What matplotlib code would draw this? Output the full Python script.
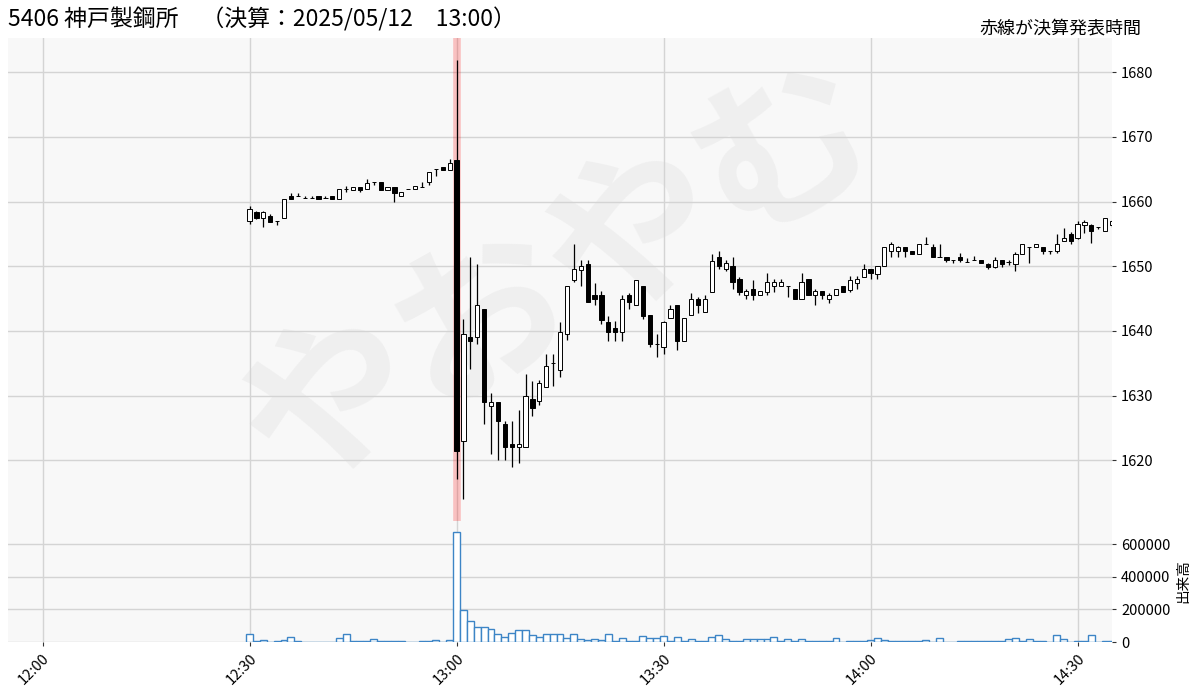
import numpy as np
import pandas as pd
import matplotlib
matplotlib.use("Agg")
import matplotlib.pyplot as plt
import matplotlib.dates as mdates
from matplotlib.ticker import MultipleLocator

plt.rcParams['font.family'] = ['Noto Sans CJK JP', 'DejaVu Sans']

# -----------------------------
# DATA (1-minute bars, 2025/05/12 12:30 - 14:35)
# -----------------------------
title = "5406 神戸製鋼所　（決算：2025/05/12　13:00）"
note = "赤線が決算発表時間"
announce_time = "2025-05-12 13:00"

times = pd.date_range("2025-05-12 12:30", "2025-05-12 14:35", freq="1min")

open_ = [
    1657.0, 1658.4, 1657.4, 1657.8, 1657.0, 1657.4, 1660.9, 1660.9, 1660.5, 1660.5,
    1660.8, 1660.5, 1660.9, 1660.4, 1661.9, 1661.8, 1662.3, 1661.9, 1663.0, 1663.0,
    1661.8, 1662.3, 1660.9, 1661.9, 1661.9, 1662.3, 1663.0, 1665.0, 1665.4, 1664.9,
    1666.4, 1623.0, 1639.0, 1639.0, 1643.4, 1628.4, 1629.0, 1625.6, 1622.5, 1622.0,
    1622.0, 1629.5, 1629.1, 1631.4, 1635.0, 1633.9, 1639.5, 1647.9, 1649.4, 1650.4,
    1645.5, 1645.5, 1641.4, 1640.4, 1639.9, 1645.5, 1644.0, 1647.0, 1642.4, 1638.0,
    1637.5, 1642.0, 1644.0, 1638.5, 1642.4, 1644.9, 1642.9, 1646.0, 1651.4, 1649.5,
    1650.0, 1648.0, 1645.5, 1646.5, 1645.5, 1646.0, 1647.0, 1647.0, 1647.0, 1646.5,
    1644.9, 1648.0, 1645.5, 1646.1, 1644.9, 1645.5, 1647.0, 1646.4, 1647.4, 1648.4,
    1649.5, 1648.8, 1650.0, 1652.4, 1652.4, 1652.9, 1652.4, 1651.9, 1653.5, 1652.9,
    1651.4, 1651.4, 1651.0, 1651.4, 1650.7, 1651.0, 1651.0, 1650.3, 1649.9, 1650.9,
    1650.6, 1650.3, 1651.9, 1652.9, 1652.9, 1652.9, 1652.4, 1652.4, 1653.9, 1655.0,
    1654.4, 1656.4, 1656.4, 1656.0, 1655.5, 1656.3,
]
high = [
    1659.3, 1658.6, 1658.5, 1658.0, 1657.0, 1660.4, 1661.3, 1661.3, 1660.9, 1660.9,
    1660.8, 1660.9, 1660.9, 1661.9, 1662.4, 1662.3, 1662.3, 1663.5, 1663.0, 1663.0,
    1662.3, 1662.3, 1661.4, 1661.9, 1662.4, 1663.0, 1664.5, 1665.0, 1665.4, 1666.6,
    1681.9, 1641.9, 1651.4, 1650.3, 1643.4, 1630.4, 1629.0, 1626.0, 1626.0, 1627.8,
    1633.4, 1632.3, 1632.4, 1636.4, 1636.4, 1641.3, 1647.0, 1653.4, 1651.0, 1650.9,
    1647.4, 1646.2, 1642.3, 1641.5, 1645.5, 1645.8, 1647.9, 1647.0, 1642.4, 1639.5,
    1641.6, 1644.0, 1644.0, 1642.0, 1645.8, 1645.2, 1645.5, 1651.9, 1652.3, 1650.9,
    1651.4, 1648.4, 1646.5, 1647.8, 1646.1, 1648.9, 1648.0, 1648.0, 1647.0, 1646.5,
    1649.0, 1648.0, 1646.5, 1646.1, 1645.8, 1646.5, 1647.0, 1648.5, 1648.5, 1650.4,
    1649.5, 1650.0, 1652.9, 1653.8, 1653.2, 1652.9, 1652.4, 1653.5, 1654.5, 1653.5,
    1653.5, 1651.4, 1651.0, 1652.0, 1651.2, 1651.6, 1651.0, 1650.5, 1651.5, 1650.9,
    1651.0, 1652.2, 1653.5, 1653.0, 1653.5, 1652.9, 1652.4, 1655.0, 1655.9, 1655.3,
    1657.0, 1657.1, 1656.5, 1656.1, 1657.4, 1657.2,
]
low = [
    1656.5, 1657.3, 1656.0, 1656.9, 1656.3, 1657.4, 1660.4, 1660.9, 1660.5, 1660.5,
    1660.4, 1660.5, 1660.4, 1660.4, 1661.4, 1661.8, 1661.5, 1661.9, 1662.5, 1661.8,
    1661.8, 1660.0, 1660.9, 1661.9, 1661.9, 1662.3, 1662.6, 1664.0, 1664.9, 1664.9,
    1617.1, 1614.0, 1634.1, 1638.0, 1625.6, 1621.0, 1620.1, 1620.1, 1619.0, 1619.6,
    1622.0, 1626.8, 1628.5, 1631.4, 1631.5, 1632.9, 1638.6, 1647.5, 1647.0, 1644.5,
    1644.0, 1641.0, 1638.5, 1638.5, 1638.5, 1643.4, 1644.0, 1641.8, 1637.5, 1636.0,
    1636.4, 1642.0, 1637.1, 1638.5, 1642.4, 1642.8, 1642.9, 1646.0, 1649.5, 1649.3,
    1646.5, 1645.5, 1645.0, 1644.7, 1645.5, 1645.5, 1646.0, 1647.0, 1645.2, 1644.9,
    1644.9, 1645.5, 1644.0, 1645.0, 1644.3, 1645.5, 1646.0, 1646.0, 1646.5, 1648.4,
    1648.0, 1648.0, 1650.0, 1651.5, 1651.5, 1651.5, 1651.9, 1651.9, 1653.5, 1651.4,
    1651.4, 1650.6, 1650.5, 1650.7, 1650.7, 1651.0, 1650.5, 1649.6, 1649.7, 1649.9,
    1650.2, 1649.2, 1651.9, 1650.5, 1652.9, 1651.9, 1651.9, 1652.0, 1653.9, 1653.4,
    1654.2, 1655.2, 1653.6, 1655.8, 1655.5, 1656.0,
]
close = [
    1658.9, 1657.4, 1658.4, 1656.9, 1657.0, 1660.4, 1660.4, 1660.9, 1660.5, 1660.5,
    1660.4, 1660.5, 1660.4, 1661.9, 1661.9, 1662.3, 1661.8, 1662.9, 1663.0, 1661.8,
    1662.3, 1661.3, 1661.4, 1661.9, 1662.4, 1662.3, 1664.5, 1665.0, 1664.9, 1665.9,
    1621.5, 1639.5, 1638.5, 1644.0, 1629.0, 1629.0, 1626.0, 1622.0, 1622.0, 1622.5,
    1630.0, 1628.0, 1631.9, 1634.5, 1635.0, 1639.9, 1647.0, 1649.6, 1650.0, 1644.5,
    1645.0, 1641.7, 1639.9, 1639.9, 1645.0, 1644.5, 1647.9, 1642.3, 1638.0, 1638.0,
    1641.4, 1643.4, 1638.5, 1642.0, 1645.0, 1644.0, 1645.0, 1650.8, 1650.0, 1650.5,
    1647.5, 1646.0, 1646.1, 1645.5, 1646.1, 1647.5, 1647.5, 1647.5, 1647.0, 1644.9,
    1647.5, 1645.5, 1646.1, 1645.5, 1645.5, 1646.5, 1646.0, 1647.9, 1648.0, 1649.5,
    1648.9, 1650.0, 1652.9, 1653.5, 1652.9, 1652.4, 1651.9, 1653.5, 1653.5, 1651.4,
    1651.4, 1650.9, 1651.0, 1650.9, 1650.7, 1651.0, 1650.5, 1649.9, 1650.9, 1650.3,
    1650.6, 1651.9, 1653.5, 1652.9, 1653.5, 1652.4, 1652.4, 1653.5, 1654.4, 1653.9,
    1656.5, 1656.9, 1655.5, 1656.0, 1657.4, 1657.0,
]
volume = [
    47000, 8000, 12000, 3000, 6000, 12000, 29000, 4000, 2000, 2000,
    2000, 2000, 2000, 23000, 47000, 4000, 4000, 4000, 16000, 6000,
    4000, 4000, 4000, 1000, 1000, 8000, 4000, 10000, 1000, 12000,
    676000, 198000, 130000, 95000, 95000, 78000, 52000, 33000, 54000, 74000,
    74000, 41000, 29000, 47000, 47000, 47000, 25000, 47000, 16000, 12000,
    16000, 12000, 52000, 8000, 25000, 8000, 8000, 39000, 23000, 23000,
    35000, 8000, 29000, 5000, 16000, 5000, 8000, 29000, 41000, 16000,
    8000, 5000, 16000, 16000, 16000, 20000, 29000, 5000, 16000, 5000,
    20000, 5000, 8000, 8000, 8000, 25000, 3000, 8000, 8000, 8000,
    10000, 23000, 12000, 4000, 4000, 4000, 4000, 8000, 12000, 3000,
    25000, 1000, 1000, 4000, 4000, 8000, 8000, 8000, 4000, 4000,
    16000, 25000, 8000, 20000, 4000, 4000, 2000, 41000, 16000, 2000,
    8000, 4000, 45000, 3000, 8000, 6000,
]

df = pd.DataFrame({"Open": open_, "High": high, "Low": low,
                   "Close": close, "Volume": volume}, index=times)

# -----------------------------
# FIGURE
# -----------------------------
fig = plt.figure(figsize=(12, 6.98), dpi=100)
ax = fig.add_axes([0.0067, 0.2536, 0.92, 0.692])
axv = fig.add_axes([0.0067, 0.0802, 0.92, 0.1734], sharex=ax)

bg = "#f8f8f8"
grid_c = "#d4d4d4"
for a in (ax, axv):
    a.set_facecolor(bg)
    a.grid(True, color=grid_c, lw=1.0)
    a.set_axisbelow(True)
    for s in a.spines.values():
        s.set_visible(False)
    a.yaxis.tick_right()
    a.tick_params(axis="both", labelsize=10.5, length=3, color="#333333")

x = mdates.date2num(df.index.to_pydatetime())
one_min = 1 / 1440

# watermark
ax.text(0.5, 0.5, "やおやむ", transform=ax.transAxes, fontsize=125,
        fontweight="bold", color="gray", alpha=0.08, rotation=29,
        ha="center", va="center", zorder=0.5)

# red line at announcement time
t0 = mdates.date2num(pd.Timestamp(announce_time))
ax.axvline(t0, color="red", alpha=0.22, lw=5.5, zorder=1)

# candles
up = df["Close"] >= df["Open"]
ax.vlines(x, df["Low"], df["High"], color="black", lw=0.9, zorder=2)
ax.bar(x, df["Close"] - df["Open"], bottom=df["Open"], width=one_min * 0.6,
       color=np.where(up, "white", "black"), edgecolor="black", lw=0.7,
       zorder=3)

rng = df["High"].max() - df["Low"].min()
ax.set_ylim(df["Low"].min() - 0.05 * rng, df["High"].max() + 0.05 * rng)
ax.yaxis.set_major_locator(MultipleLocator(10))
ax.tick_params(axis="x", labelbottom=False, length=0)

# volume
axv.bar(x, df["Volume"], width=one_min, facecolor="white",
        edgecolor="#3d85c6", lw=1.0, zorder=2)
axv.set_ylim(0, df["Volume"].max() * 1.1)
axv.yaxis.set_major_locator(MultipleLocator(200000))
axv.yaxis.set_label_position("right")
axv.set_ylabel("出来高", fontsize=10.5)

axv.set_xlim(mdates.date2num(pd.Timestamp("2025-05-12 11:55")),
             mdates.date2num(pd.Timestamp("2025-05-12 14:35")))
axv.xaxis.set_major_locator(mdates.MinuteLocator(byminute=[0, 30]))
axv.xaxis.set_major_formatter(mdates.DateFormatter("%H:%M"))
plt.setp(axv.get_xticklabels(), rotation=45, ha="right", rotation_mode="anchor")

fig.text(0.007, 0.972, title, fontsize=16.5, va="center", ha="left")
fig.text(0.951, 0.959, note, fontsize=13, va="center", ha="right")

fig.savefig("out.png", dpi=100, facecolor="white")
